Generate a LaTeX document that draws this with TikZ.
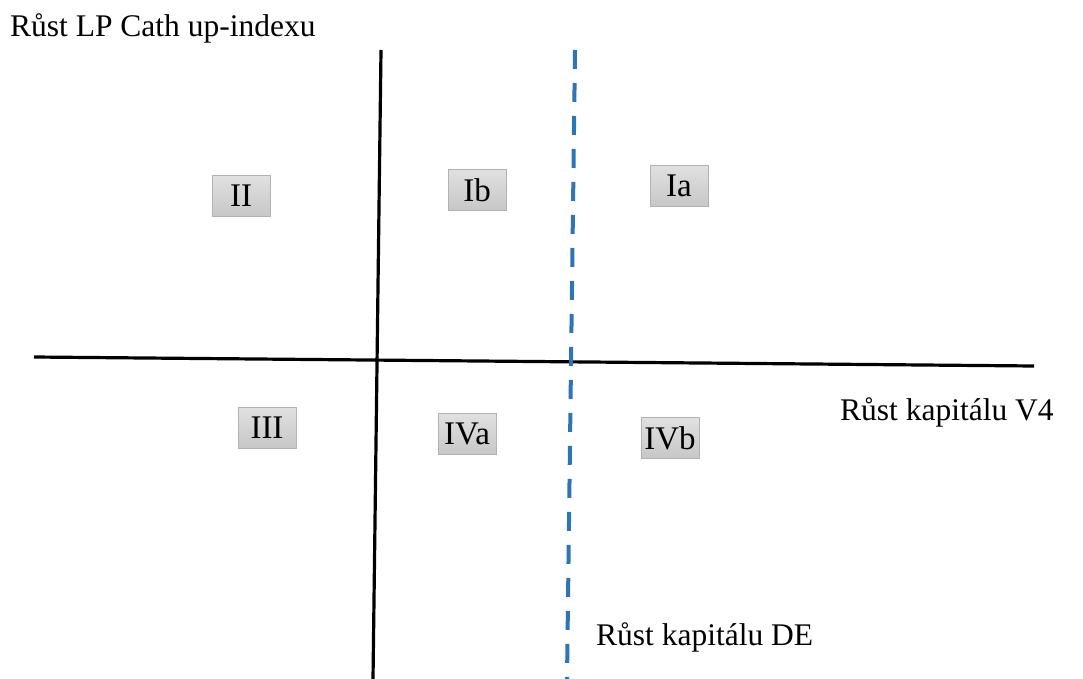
\documentclass[tikz,border=0pt]{standalone}
\usepackage{fontspec}
\setmainfont{Liberation Serif}
\begin{document}
\begin{tikzpicture}[x=1pt,y=-1pt,
  quad/.style={draw=black!30, line width=1pt, top color=black!12, bottom color=black!22,
    minimum width=58pt, minimum height=41pt, inner sep=0pt, font=\fontsize{33}{36}\selectfont},
  axis/.style={line width=3.2pt, black},
  lbl/.style={font=\fontsize{31.5}{34}\selectfont, inner sep=0pt, anchor=base west}]
\useasboundingbox (0,0) rectangle (1083,679);
% axes
\coordinate (vt) at (381,50);
\coordinate (vb) at (373,679);
\coordinate (hl) at (34,357);
\coordinate (hr) at (1034,366);
\coordinate (dt) at (575,50);
\coordinate (db) at (567,679);
\draw[axis] (vt) -- (vb);
\draw[axis] (hl) -- (hr);
\draw[line width=4pt, color={rgb,255:red,46;green,117;blue,182}, dash pattern=on 19pt off 14pt] (dt) -- (db);
% quadrant labels
\node[quad] (II) at (241,196) {II};
\node[quad] (Ib) at (477,190) {Ib};
\node[quad] (Ia) at (679,186) {Ia};
\node[quad] (III) at (267,428) {III};
\node[quad] (IVa) at (467,434) {IVa};
\node[quad] (IVb) at (670,438) {IVb};
% axis titles
\node[lbl] (ty) at (10,37) {Růst LP Cath up-indexu};
\node[lbl] (tx) at (840,420) {Růst kapitálu V4};
\node[lbl] (td) at (596,645) {Růst kapitálu DE};
\end{tikzpicture}
\end{document}
